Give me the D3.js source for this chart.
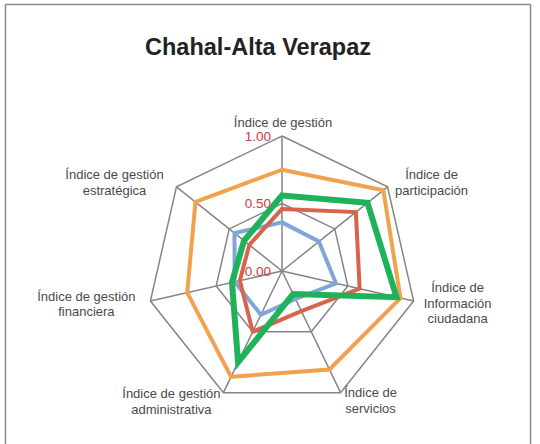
<!DOCTYPE html>
<html>
<head>
<meta charset="utf-8">
<script src="https://cdn.jsdelivr.net/npm/d3@7"></script>
<style>
  html, body { margin: 0; padding: 0; background: #fff; }
  svg { display: block; }
</style>
</head>
<body>
<svg id="chart" width="540" height="444"></svg>
<script>
// ---- data ----
const title = "Chahal-Alta Verapaz";
const categories = [
  ["Índice de gestión"],
  ["Índice de", "participación"],
  ["Índice de", "Información", "ciudadana"],
  ["Índice de", "servicios"],
  ["Índice de gestión", "administrativa"],
  ["Índice de gestión", "financiera"],
  ["Índice de gestión", "estratégica"]
];
const tickValues = [0, 0.5, 1.0];
const tickLabels = ["0.00", "0.50", "1.00"];
const gridLevels = [0.5, 1.0];
const seriesNames = ["Serie 1", "Serie 2", "Serie 3", "Serie 4"];
const seriesBlue   = [0.36, 0.35, 0.41, 0.23, 0.36, 0.36, 0.45];
const seriesRed    = [0.46, 0.70, 0.59, 0.33, 0.50, 0.32, 0.31];
const seriesOrange = [0.75, 0.96, 0.90, 0.81, 0.87, 0.72, 0.82];
const seriesGreen  = [0.56, 0.81, 0.87, 0.19, 0.75, 0.38, 0.36];
const seriesColors = ["#7ea7d8", "#d8644b", "#f1a24f", "#1fb25a"];
const seriesWidths = [4, 4, 4, 6];

// ---- layout ----
const svg = d3.select("#chart");
const cx = 282, cy = 271, R = 135;
const n = categories.length;
const r = d3.scaleLinear().domain([0, 1]).range([0, R]);
const angle = d3.scaleLinear().domain([0, n]).range([0, 2 * Math.PI]);

// frame (bottom edge runs off the picture as in the reference)
svg.append("rect").attr("x", 5.5).attr("y", 4.5).attr("width", 525).attr("height", 445)
  .attr("fill", "#fff").attr("stroke", "#8c8c8c").attr("stroke-width", 1.5);

// title
svg.append("text").attr("x", 258).attr("y", 55).attr("text-anchor", "middle")
  .attr("font-family", "Liberation Sans, Arial, sans-serif").attr("font-weight", "bold")
  .attr("font-size", 23.5).attr("fill", "#222").text(title);

const g = svg.append("g").attr("transform", `translate(${cx},${cy})`);
const pt = (i, v) => [r(v) * Math.sin(angle(i)), -r(v) * Math.cos(angle(i))];

// grid rings
gridLevels.forEach(lv => {
  g.append("path")
    .attr("d", d3.line()(d3.range(n).map(i => pt(i, lv))) + "Z")
    .attr("fill", "none").attr("stroke", "#858585").attr("stroke-width", 1.5);
});
// spokes
d3.range(n).forEach(i => {
  const [x, y] = pt(i, 1);
  g.append("line").attr("x1", 0).attr("y1", 0).attr("x2", x).attr("y2", y)
    .attr("stroke", "#858585").attr("stroke-width", 1.5);
});

// series
const allSeries = [seriesBlue, seriesRed, seriesOrange, seriesGreen];
const radial = d3.lineRadial().angle((d, i) => angle(i)).radius(d => r(d)).curve(d3.curveLinearClosed);
allSeries.forEach((s, k) => {
  g.append("path").attr("d", radial(s))
    .attr("fill", "none").attr("stroke", seriesColors[k])
    .attr("stroke-width", seriesWidths[k]).attr("stroke-linejoin", "miter");
});

// tick labels
tickValues.forEach((v, k) => {
  g.append("text").attr("x", -11).attr("y", -r(v)).attr("dy", "0.36em")
    .attr("text-anchor", "end")
    .attr("font-family", "Liberation Sans, Arial, sans-serif")
    .attr("font-size", 13.5).attr("fill", "#cc3a45").text(tickLabels[k]);
});

// category labels
const labelOffsets = [[1, -9], [44, -4], [44, 2], [30, 8], [-52, 9], [-64, 3], [-62, -4]];
const lineH = 15.8;
categories.forEach((lines, i) => {
  const [x, y] = pt(i, 1);
  const lx = x + labelOffsets[i][0];
  const ly = y + labelOffsets[i][1];
  const t = g.append("text").attr("text-anchor", "middle")
    .attr("font-family", "Liberation Sans, Arial, sans-serif")
    .attr("font-size", 13).attr("fill", "#4a4a4a");
  const y0 = i === 0 ? ly : ly - (lines.length - 1) * lineH / 2 + 4.5;
  lines.forEach((ln, j) => {
    t.append("tspan").attr("x", lx).attr("y", y0 + j * lineH).text(ln);
  });
});
</script>
</body>
</html>
